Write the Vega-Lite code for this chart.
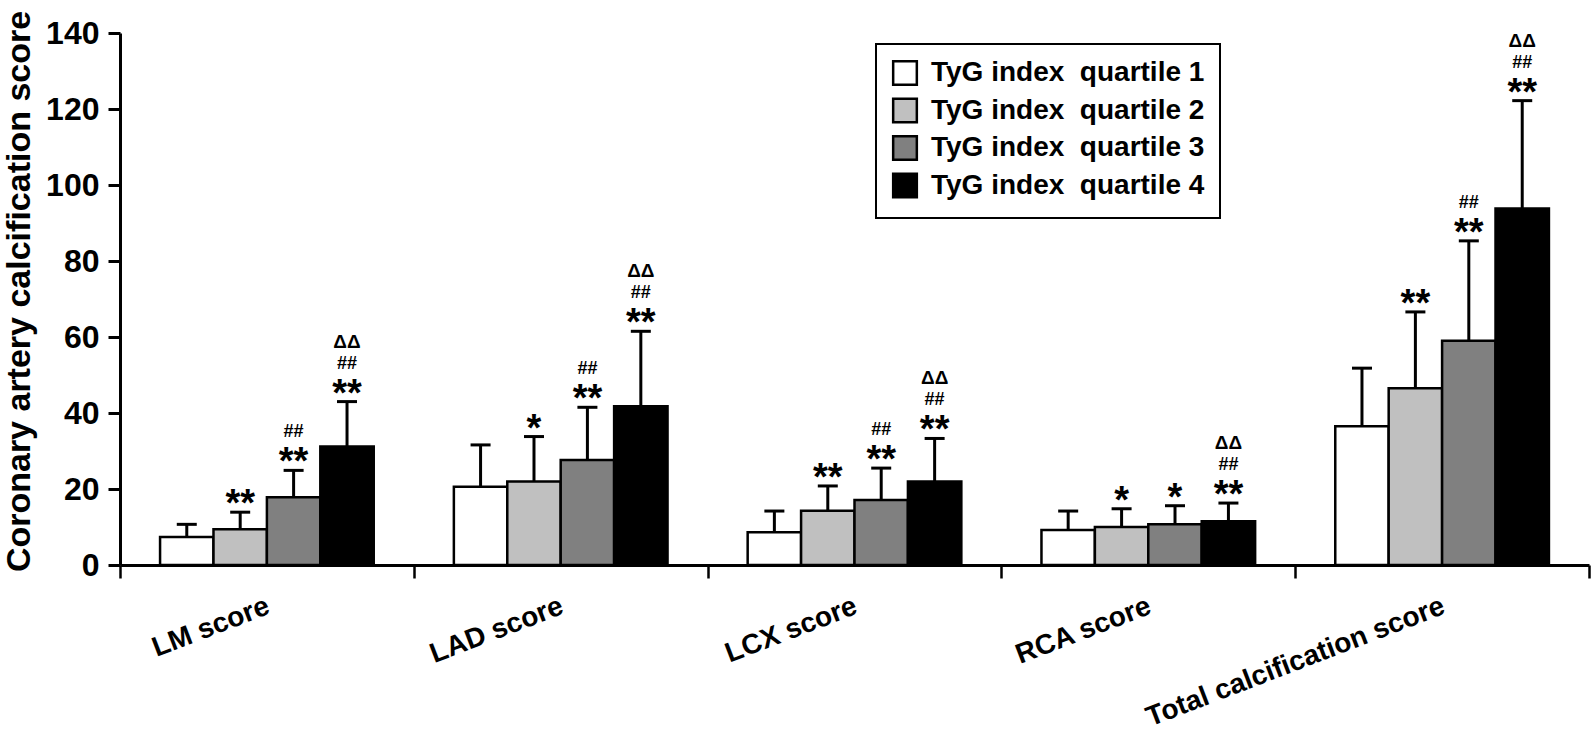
{
  "$schema": "https://vega.github.io/schema/vega-lite/v6.json",
  "autosize": {"type": "none"},
  "padding": {"left": 120, "top": 33, "right": 5, "bottom": 167},
  "width": 1469,
  "height": 532,
  "background": "white",
  "config": {
    "font": "Liberation Sans",
    "view": {"stroke": null},
    "scale": {"bandPaddingInner": 0, "bandPaddingOuter": 0}
  },
  "data": {
    "values": [
      {"region": "LM score", "quartile": "TyG index\u00a0 quartile 1", "mean": 7.4, "upper": 10.7, "star": "", "hash": "", "delta": ""},
      {"region": "LM score", "quartile": "TyG index\u00a0 quartile 2", "mean": 9.4, "upper": 13.9, "star": "**", "hash": "", "delta": ""},
      {"region": "LM score", "quartile": "TyG index\u00a0 quartile 3", "mean": 17.8, "upper": 24.9, "star": "**", "hash": "##", "delta": ""},
      {"region": "LM score", "quartile": "TyG index\u00a0 quartile 4", "mean": 31.2, "upper": 43.0, "star": "**", "hash": "##", "delta": "ΔΔ"},
      {"region": "LAD score", "quartile": "TyG index\u00a0 quartile 1", "mean": 20.6, "upper": 31.6, "star": "", "hash": "", "delta": ""},
      {"region": "LAD score", "quartile": "TyG index\u00a0 quartile 2", "mean": 22.0, "upper": 33.8, "star": "*", "hash": "", "delta": ""},
      {"region": "LAD score", "quartile": "TyG index\u00a0 quartile 3", "mean": 27.6, "upper": 41.5, "star": "**", "hash": "##", "delta": ""},
      {"region": "LAD score", "quartile": "TyG index\u00a0 quartile 4", "mean": 41.8, "upper": 61.5, "star": "**", "hash": "##", "delta": "ΔΔ"},
      {"region": "LCX score", "quartile": "TyG index\u00a0 quartile 1", "mean": 8.6, "upper": 14.2, "star": "", "hash": "", "delta": ""},
      {"region": "LCX score", "quartile": "TyG index\u00a0 quartile 2", "mean": 14.3, "upper": 20.8, "star": "**", "hash": "", "delta": ""},
      {"region": "LCX score", "quartile": "TyG index\u00a0 quartile 3", "mean": 17.1, "upper": 25.5, "star": "**", "hash": "##", "delta": ""},
      {"region": "LCX score", "quartile": "TyG index\u00a0 quartile 4", "mean": 22.0, "upper": 33.3, "star": "**", "hash": "##", "delta": "ΔΔ"},
      {"region": "RCA score", "quartile": "TyG index\u00a0 quartile 1", "mean": 9.2, "upper": 14.2, "star": "", "hash": "", "delta": ""},
      {"region": "RCA score", "quartile": "TyG index\u00a0 quartile 2", "mean": 10.0, "upper": 14.8, "star": "*", "hash": "", "delta": ""},
      {"region": "RCA score", "quartile": "TyG index\u00a0 quartile 3", "mean": 10.7, "upper": 15.6, "star": "*", "hash": "", "delta": ""},
      {"region": "RCA score", "quartile": "TyG index\u00a0 quartile 4", "mean": 11.5, "upper": 16.3, "star": "**", "hash": "##", "delta": "ΔΔ"},
      {"region": "Total calcification score", "quartile": "TyG index\u00a0 quartile 1", "mean": 36.5, "upper": 51.8, "star": "", "hash": "", "delta": ""},
      {"region": "Total calcification score", "quartile": "TyG index\u00a0 quartile 2", "mean": 46.5, "upper": 66.6, "star": "**", "hash": "", "delta": ""},
      {"region": "Total calcification score", "quartile": "TyG index\u00a0 quartile 3", "mean": 59.0, "upper": 85.3, "star": "**", "hash": "##", "delta": ""},
      {"region": "Total calcification score", "quartile": "TyG index\u00a0 quartile 4", "mean": 93.8, "upper": 122.2, "star": "**", "hash": "##", "delta": "ΔΔ"}
    ]
  },
  "encoding": {
    "x": {
      "field": "region",
      "type": "nominal",
      "sort": null,
      "scale": {"paddingInner": 0, "paddingOuter": 0},
      "axis": {
        "title": null,
        "domainColor": "black",
        "domainWidth": 3,
        "tickBand": "extent",
        "tickColor": "black",
        "tickWidth": 2.5,
        "tickSize": 13,
        "labelAngle": -21,
        "labelAlign": "right",
        "labelBaseline": "top",
        "labelFontSize": 28,
        "labelFontWeight": "bold",
        "labelColor": "black",
        "labelPadding": 14,
        "labelOffset": -4,
        "labelLimit": 700,
        "labelOverlap": false,
        "grid": false
      }
    },
    "xOffset": {
      "field": "quartile",
      "type": "nominal",
      "sort": null,
      "scale": {"paddingInner": 0, "paddingOuter": 0.75}
    }
  },
  "layer": [
    {
      "mark": {"type": "bar", "stroke": "black", "strokeWidth": 2.5, "opacity": 1},
      "encoding": {
        "y": {
          "field": "mean",
          "type": "quantitative",
          "scale": {"domain": [0, 140], "nice": false, "zero": true},
          "axis": {
            "title": "Coronary artery calcification score",
            "titleFontSize": 34,
            "titleFontWeight": "bold",
            "titleColor": "black",
            "titleX": -91,
            "titleY": 258,
            "titleBaseline": "alphabetic",
            "values": [0, 20, 40, 60, 80, 100, 120, 140],
            "grid": false,
            "domainColor": "black",
            "domainWidth": 3,
            "tickColor": "black",
            "tickWidth": 3,
            "tickSize": 12,
            "labelFontSize": 32,
            "labelFontWeight": "bold",
            "labelColor": "black",
            "labelPadding": 9
          }
        },
        "fill": {
          "field": "quartile",
          "type": "nominal",
          "sort": null,
          "scale": {"range": ["#ffffff", "#c0c0c0", "#808080", "#000000"]},
          "legend": {
            "title": null,
            "orient": "none",
            "legendX": 756,
            "legendY": 11,
            "strokeColor": "black",
            "padding": 15,
            "rowPadding": 3.5,
            "symbolType": "square",
            "symbolSize": 560,
            "symbolStrokeColor": "black",
            "symbolStrokeWidth": 2.5,
            "symbolOpacity": 1,
            "labelFontSize": 28,
            "labelFontWeight": "bold",
            "labelColor": "black",
            "labelOffset": 12,
            "labelLimit": 400,
            "encode": {"legend": {"update": {"strokeWidth": {"value": 2}}}}
          }
        }
      }
    },
    {
      "mark": {"type": "rule", "color": "black", "strokeWidth": 3},
      "encoding": {
        "y": {"field": "mean", "type": "quantitative"},
        "y2": {"field": "upper"}
      }
    },
    {
      "mark": {"type": "tick", "color": "black", "thickness": 3, "size": 20, "orient": "horizontal", "opacity": 1},
      "encoding": {
        "y": {"field": "upper", "type": "quantitative"}
      }
    },
    {
      "mark": {"type": "text", "font": "Liberation Sans", "fontWeight": "bold", "fontSize": 38, "baseline": "alphabetic", "align": "center", "dy": 4, "color": "black"},
      "encoding": {
        "y": {"field": "upper", "type": "quantitative"},
        "text": {"field": "star"}
      }
    },
    {
      "mark": {"type": "text", "font": "Liberation Sans", "fontWeight": "bold", "fontSize": 18, "baseline": "alphabetic", "align": "center", "dy": -33, "color": "black"},
      "encoding": {
        "y": {"field": "upper", "type": "quantitative"},
        "text": {"field": "hash"}
      }
    },
    {
      "mark": {"type": "text", "font": "Liberation Sans", "fontWeight": "bold", "fontSize": 19, "baseline": "alphabetic", "align": "center", "dy": -54, "color": "black"},
      "encoding": {
        "y": {"field": "upper", "type": "quantitative"},
        "text": {"field": "delta"}
      }
    }
  ]
}
